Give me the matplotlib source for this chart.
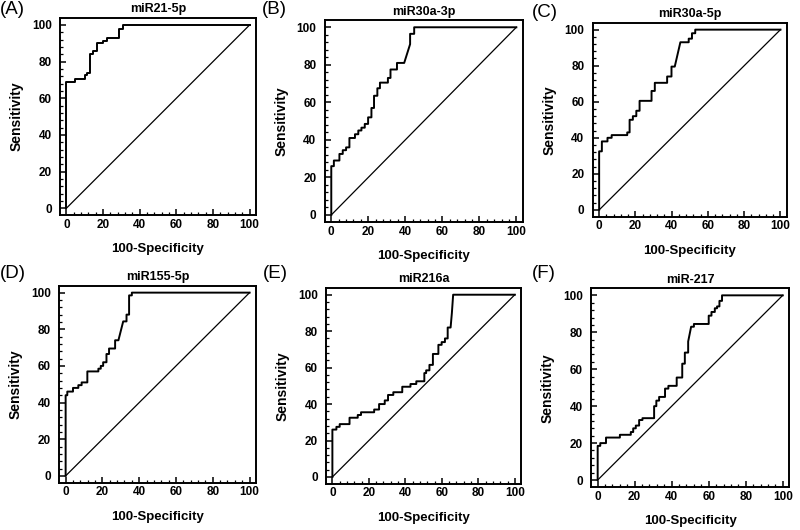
import matplotlib
matplotlib.use('Agg')
import matplotlib.pyplot as plt
from matplotlib.ticker import MultipleLocator

plt.rcParams['font.family'] = ['Liberation Sans', 'DejaVu Sans']

# ROC curve vertices (100-Specificity, Sensitivity)
fpr_a = [0, 0, 4.5, 4.5, 10, 10, 11.5, 11.5, 13, 13, 14.5, 14.5, 16.5, 16.5, 20, 20, 22, 22, 28.5, 28.5, 31, 31, 100]
tpr_a = [0, 69, 69, 70.5, 70.5, 72.5, 72.5, 74, 74, 84, 84, 86, 86, 90, 90, 91.5, 91.5, 93, 93, 98, 98, 100, 100]

fpr_b = [0, 0, 1.4, 1.4, 4.4, 4.4, 6.2, 6.2, 8, 8, 9.8, 9.8, 12.8, 12.8, 14.6, 14.6, 16.3, 16.3, 18.1, 18.1,
         19.9, 19.9, 21.7, 21.7, 23.1, 23.1, 24.9, 24.9, 26.3, 26.3, 30.6, 30.6, 32, 32, 35.5, 35.5, 39.4,
         42.6, 42.6, 44.8, 44.8, 100]
tpr_b = [0, 26, 26, 29, 29, 32.5, 32.5, 34.5, 34.5, 36, 36, 41, 41, 43, 43, 45, 45, 46.5, 46.5, 48.5,
         48.5, 52, 52, 57, 57, 63.5, 63.5, 67.5, 67.5, 70.5, 70.5, 73, 73, 77.5, 77.5, 81, 81,
         91, 96.5, 96.5, 100, 100]

fpr_c = [0, 0, 1.5, 1.5, 4.6, 4.6, 6.9, 6.9, 15.5, 15.5, 16.8, 16.8, 18.6, 18.6, 20.5, 20.5, 22.3, 22.3,
         28.9, 28.9, 30.7, 30.7, 37.5, 37.5, 39.9, 39.9, 41.7, 44.8, 49.4, 49.4, 51.2, 51.2, 53, 53, 100]
tpr_c = [0, 32.5, 32.5, 38, 38, 40, 40, 41.5, 41.5, 43, 43, 50, 50, 52, 52, 55, 55, 60.5,
         60.5, 66, 66, 70.5, 70.5, 74, 74, 79.5, 79.5, 93, 93, 95, 95, 98, 98, 100, 100]

fpr_d = [0, 0, 0.9, 0.9, 4, 4, 6.9, 6.9, 8.7, 8.7, 11.8, 11.8, 17.8, 17.8, 19.1, 19.1, 20.4, 20.4,
         22.2, 22.2, 23.6, 23.6, 26.9, 26.9, 28.7, 31.3, 33.1, 33.1, 34.5, 34.5, 36, 36, 100]
tpr_d = [0, 44, 44, 46, 46, 48, 48, 49.5, 49.5, 51, 51, 57, 57, 58.5, 58.5, 60, 60, 62,
         62, 66.5, 66.5, 69.5, 69.5, 74, 74, 84.3, 84.3, 88, 88, 98.5, 98.5, 100, 100]

fpr_e = [0, 0, 2.2, 2.2, 4, 4, 9.4, 9.4, 13.9, 13.9, 15.7, 15.7, 22.9, 22.9, 25.6, 25.6, 28.7, 28.7,
         30.5, 30.5, 33.4, 33.4, 38.3, 38.3, 42.8, 42.8, 46, 46, 50.4, 50.4, 51.4, 51.4, 53.2, 53.2,
         55.1, 55.1, 58.1, 58.1, 59.9, 59.9, 61.7, 61.7, 63.2, 63.2, 64.8, 65.5, 66.2, 100]
tpr_e = [0, 26, 26, 27.5, 27.5, 29, 29, 32.5, 32.5, 34, 34, 35.5, 35.5, 37, 37, 40, 40, 42,
         42, 45, 45, 46.5, 46.5, 49.5, 49.5, 51, 51, 52.5, 52.5, 57, 57, 58.5, 58.5, 61.5,
         61.5, 67.5, 67.5, 72.5, 72.5, 74, 74, 76, 76, 82, 82, 90, 100, 100]

fpr_f = [0, 0, 1.4, 1.4, 4.5, 4.5, 12, 12, 17.9, 17.9, 19.2, 19.2, 20.6, 20.6, 22.4, 22.4, 24.2, 24.2,
         30.5, 30.5, 31.7, 31.7, 33.2, 33.2, 36.4, 36.4, 38.2, 38.2, 42.7, 42.7, 45.7, 45.7, 47.1, 47.1,
         48.9, 48.9, 50.5, 52, 52, 60, 60, 61.5, 61.5, 63.3, 63.3, 64.5, 64.5, 65.8, 65.8, 67.2, 67.2, 100]
tpr_f = [0, 18.5, 18.5, 20, 20, 23, 23, 24.5, 24.5, 26, 26, 28, 28, 29.5, 29.5, 32.5, 32.5, 33.5,
         33.5, 40, 40, 43, 43, 45, 45, 49.5, 49.5, 51, 51, 55.5, 55.5, 63, 63, 69,
         69, 75, 83, 83, 84.5, 84.5, 89, 89, 91, 91, 93, 93, 94, 94, 97, 97, 100, 100]

titles = ['miR21-5p', 'miR30a-3p', 'miR30a-5p', 'miR155-5p', 'miR216a', 'miR-217']
letters = ['(A)', '(B)', '(C)', '(D)', '(E)', '(F)']
curves = [(fpr_a, tpr_a), (fpr_b, tpr_b), (fpr_c, tpr_c), (fpr_d, tpr_d), (fpr_e, tpr_e), (fpr_f, tpr_f)]

# axes boxes in figure fractions (panels are not perfectly aligned in the original)
boxes = [[0.075, 0.594, 0.245, 0.372],
         [0.406, 0.581, 0.2475, 0.381],
         [0.741, 0.591, 0.2425, 0.366],
         [0.074, 0.089, 0.246, 0.372],
         [0.4075, 0.087, 0.244, 0.370],
         [0.739, 0.081, 0.2475, 0.375]]
letter_pos = [(0.0, 0.998), (0.327, 0.998), (0.665, 0.993), (0.0, 0.5), (0.328, 0.5), (0.665, 0.5)]

fig = plt.figure(figsize=(8, 5.3), dpi=100)

for i in range(6):
    ax = fig.add_axes(boxes[i])
    x, y = curves[i]
    ax.plot(x, y, color='black', lw=1.4)
    ax.plot([0, 100], [0, 100], color='black', lw=0.9)
    ax.set_xlim(-3.5, 103.5)
    ax.set_ylim(-3.8, 103.8)
    ax.xaxis.set_major_locator(MultipleLocator(20))
    ax.yaxis.set_major_locator(MultipleLocator(20))
    ax.xaxis.set_minor_locator(MultipleLocator(4))
    ax.yaxis.set_minor_locator(MultipleLocator(4))
    ax.tick_params(which='major', direction='in', length=4.5, width=1.1, labelsize=8.5)
    ax.tick_params(which='minor', direction='in', length=2.5, width=0.9)
    ax.tick_params(axis='x', pad=2.5)
    ax.tick_params(axis='y', pad=6)
    for lab in ax.get_xticklabels() + ax.get_yticklabels():
        lab.set_fontweight('bold')
    for sp in ax.spines.values():
        sp.set_linewidth(1.4)
    ax.set_xlabel('100-Specificity', fontsize=9.5, fontweight='bold', labelpad=9)
    ax.set_ylabel('Sensitivity', fontsize=10, fontweight='bold', labelpad=6)
    ax.set_title(titles[i], fontsize=9, fontweight='bold', pad=4)
    fig.text(letter_pos[i][0], letter_pos[i][1], letters[i], fontsize=13.5, ha='left', va='top')

plt.savefig('out.png', dpi=100)
